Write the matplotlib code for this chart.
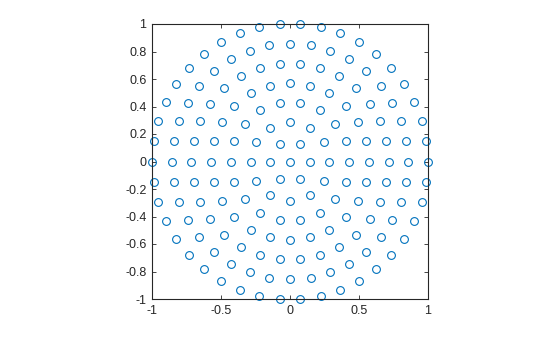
import matplotlib
matplotlib.use("Agg")
import matplotlib.pyplot as plt

plt.rcParams['font.family'] = ['Liberation Sans', 'DejaVu Sans']
plt.rcParams['axes.unicode_minus'] = False

# Point coordinates, grouped by ring (centre outwards)
ring0_x = [0.0]
ring0_y = [0.0]
ring1_x = [0.143, 0.071, -0.071, -0.143, -0.071, 0.071]
ring1_y = [0.0, 0.124, 0.124, 0.0, -0.124, -0.124]
ring2_x = [0.286, 0.247, 0.143, 0.0, -0.143, -0.247, -0.286, -0.247, -0.143, 0.0, 0.143, 0.247]
ring2_y = [0.0, 0.143, 0.247, 0.286, 0.247, 0.143, 0.0, -0.143, -0.247, -0.286, -0.247, -0.143]
ring3_x = [0.429, 0.403, 0.328, 0.214, 0.074, -0.074, -0.214, -0.328, -0.403, -0.429,
           -0.403, -0.328, -0.214, -0.074, 0.074, 0.214, 0.328, 0.403]
ring3_y = [0.0, 0.147, 0.275, 0.371, 0.422, 0.422, 0.371, 0.275, 0.147, 0.0,
           -0.147, -0.275, -0.371, -0.422, -0.422, -0.371, -0.275, -0.147]
ring4_x = [0.571, 0.552, 0.495, 0.404, 0.286, 0.148, 0.0, -0.148, -0.286, -0.404, -0.495, -0.552,
           -0.571, -0.552, -0.495, -0.404, -0.286, -0.148, 0.0, 0.148, 0.286, 0.404, 0.495, 0.552]
ring4_y = [0.0, 0.148, 0.286, 0.404, 0.495, 0.552, 0.571, 0.552, 0.495, 0.404, 0.286, 0.148,
           0.0, -0.148, -0.286, -0.404, -0.495, -0.552, -0.571, -0.552, -0.495, -0.404, -0.286, -0.148]
ring5_x = [0.714, 0.699, 0.653, 0.578, 0.478, 0.357, 0.221, 0.075, -0.075, -0.221, -0.357, -0.478,
           -0.578, -0.653, -0.699, -0.714,
           -0.699, -0.653, -0.578, -0.478, -0.357, -0.221, -0.075, 0.075, 0.221, 0.357, 0.478,
           0.578, 0.653, 0.699]
ring5_y = [0.0, 0.149, 0.291, 0.420, 0.531, 0.619, 0.679, 0.710, 0.710, 0.679, 0.619, 0.531,
           0.420, 0.291, 0.149, 0.0,
           -0.149, -0.291, -0.420, -0.531, -0.619, -0.679, -0.710, -0.710, -0.679, -0.619, -0.531,
           -0.420, -0.291, -0.149]
ring6_x = [0.857, 0.844, 0.805, 0.742, 0.657, 0.551, 0.429, 0.293, 0.149, 0.0, -0.149, -0.293,
           -0.429, -0.551, -0.657, -0.742, -0.805, -0.844, -0.857,
           -0.844, -0.805, -0.742, -0.657, -0.551, -0.429, -0.293, -0.149, 0.0, 0.149, 0.293,
           0.429, 0.551, 0.657, 0.742, 0.805, 0.844]
ring6_y = [0.0, 0.149, 0.293, 0.429, 0.551, 0.657, 0.742, 0.805, 0.844, 0.857, 0.844, 0.805,
           0.742, 0.657, 0.551, 0.429, 0.293, 0.149, 0.0,
           -0.149, -0.293, -0.429, -0.551, -0.657, -0.742, -0.805, -0.844, -0.857, -0.844, -0.805,
           -0.742, -0.657, -0.551, -0.429, -0.293, -0.149]
ring7_x = [1.0, 0.989, 0.956, 0.901, 0.826, 0.733, 0.623, 0.5, 0.365, 0.223, 0.075, -0.075,
           -0.223, -0.365, -0.5, -0.623, -0.733, -0.826, -0.901, -0.956, -0.989, -1.0,
           -0.989, -0.956, -0.901, -0.826, -0.733, -0.623, -0.5, -0.365, -0.223, -0.075,
           0.075, 0.223, 0.365, 0.5, 0.623, 0.733, 0.826, 0.901, 0.956, 0.989]
ring7_y = [0.0, 0.149, 0.295, 0.434, 0.563, 0.680, 0.782, 0.866, 0.931, 0.975, 0.997, 0.997,
           0.975, 0.931, 0.866, 0.782, 0.680, 0.563, 0.434, 0.295, 0.149, 0.0,
           -0.149, -0.295, -0.434, -0.563, -0.680, -0.782, -0.866, -0.931, -0.975, -0.997,
           -0.997, -0.975, -0.931, -0.866, -0.782, -0.680, -0.563, -0.434, -0.295, -0.149]

x = ring0_x + ring1_x + ring2_x + ring3_x + ring4_x + ring5_x + ring6_x + ring7_x
y = ring0_y + ring1_y + ring2_y + ring3_y + ring4_y + ring5_y + ring6_y + ring7_y

xticks = [-1, -0.5, 0, 0.5, 1]
xticklabels = ['-1', '-0.5', '0', '0.5', '1']
yticks = [-1, -0.8, -0.6, -0.4, -0.2, 0, 0.2, 0.4, 0.6, 0.8, 1]
yticklabels = ['-1', '-0.8', '-0.6', '-0.4', '-0.2', '0', '0.2', '0.4', '0.6', '0.8', '1']

fig = plt.figure(figsize=(5.6, 3.37), dpi=100)
ax = fig.add_axes([152/560, 1-299/337, 276/560, 275/337])
ax.plot(x, y, linestyle='none', marker='o', markersize=5.6, markerfacecolor='none',
        markeredgecolor=(0, 0.447, 0.741), markeredgewidth=0.8, clip_on=False)
ax.set_xlim(-1, 1)
ax.set_ylim(-1, 1)
ax.set_xticks(xticks)
ax.set_xticklabels(xticklabels)
ax.set_yticks(yticks)
ax.set_yticklabels(yticklabels)
axc = (0.15, 0.15, 0.15)
for s in ax.spines.values():
    s.set_color(axc)
    s.set_linewidth(0.8)
ax.tick_params(direction='in', length=3, width=0.6, colors=axc, labelsize=9,
               top=True, right=True, labeltop=False, labelright=False, pad=4)
for lab in ax.get_xticklabels() + ax.get_yticklabels():
    lab.set_color((0.15, 0.15, 0.15))
fig.savefig('out.png', dpi=100, facecolor='white')
